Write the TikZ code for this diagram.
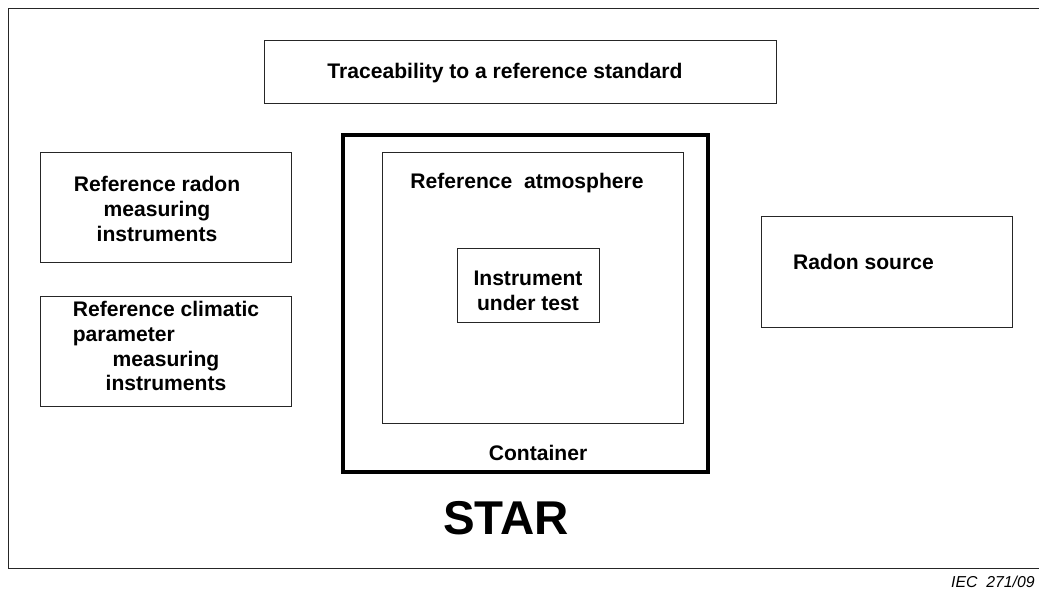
\documentclass[tikz,border=0pt]{standalone}
\usepackage{fontspec}
\setmainfont{Liberation Sans}
\usetikzlibrary{positioning}

\tikzset{
  box/.style={draw=black!85, line width=0.55pt, inner sep=0pt},
  bigbox/.style={draw, line width=1.8pt, inner sep=0pt},
  lbl/.style={font=\fontsize{12}{14.2}\selectfont\bfseries, align=center, inner sep=0pt},
}

\begin{document}
\begin{tikzpicture}[x=0.02cm, y=-0.02cm]
    \useasboundingbox (0,0) rectangle (1039,592);
    % outer frame (open on the right)
    \draw[draw=black!85, line width=0.55pt] (1039,8) -- (8,8) -- (8,568) -- (1039,568);

    % boxes
    \node[box, minimum width=10.26cm, minimum height=1.26cm] (trace) at (520.5,71.5) {};
    \node[box, minimum width=5.04cm, minimum height=2.2cm] (radonRef) at (166,207) {};
    \node[box, minimum width=5.04cm, minimum height=2.2cm] (climRef) at (166,351) {};
    \node[bigbox, minimum width=7.3cm, minimum height=6.74cm] (container) at (525.5,303.5) {};
    \node[box, minimum width=6.04cm, minimum height=5.44cm] (atmos) at (533,288) {};
    \node[box, minimum width=2.84cm, minimum height=1.48cm] (iut) at (528,285) {};
    \node[box, minimum width=5.04cm, minimum height=2.22cm] (source) at (887,271.5) {};

    % texts
    \node[lbl] (traceTxt) at (505,73) {Traceability to a reference standard};
    \node[lbl] (radonRefTxt) at (157,209) {Reference radon\\ measuring\\ instruments};
    \node[lbl] (climRefTxt) at (166,346) {Reference climatic\\ \rlap{parameter}\phantom{Reference climatic}\\ measuring\\ instruments};
    \node[lbl] (atmosTxt) at (527,183) {Reference\ \ atmosphere};
    \node[lbl] (iutTxt) at (528,291) {Instrument\\ under test};
    \node[lbl] (containerTxt) at (538,453) {Container};
    \node[lbl] (sourceTxt) at (863.5,262) {Radon source};
    \node[font=\fontsize{27}{32}\selectfont\bfseries, inner sep=0pt] (star) at (506,518) {STAR};
    \node[font=\fontsize{9}{11}\selectfont\itshape, inner sep=0pt, anchor=east] (iec) at (1035,582) {IEC\ \ 271/09};
\end{tikzpicture}
\end{document}
